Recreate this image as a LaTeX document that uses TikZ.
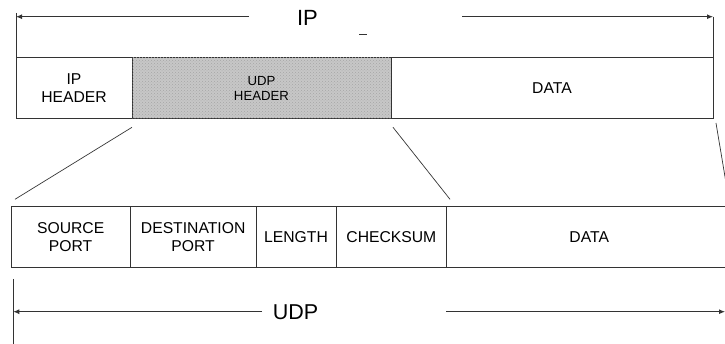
\documentclass[tikz,border=0pt]{standalone}
\usepackage{fontspec}
\setmainfont{Liberation Sans}
\usetikzlibrary{arrows.meta,patterns}
\definecolor{linegray}{gray}{0.2}
\definecolor{hatchbase}{gray}{0.78}
\begin{document}
\begin{tikzpicture}[x=1pt,y=-1pt,
  field/.style={draw=linegray,line width=1pt,inner sep=0pt,outer sep=0pt,
    anchor=north west,align=center,font=\fontsize{15.7}{18}\selectfont},
  smallfield/.style={field,font=\fontsize{13.2}{15}\selectfont},
  hatched/.style={fill=hatchbase,postaction={pattern=crosshatch dots,pattern color=gray!70}},
  title/.style={inner sep=0pt,font=\fontsize{22}{24}\selectfont},
  span/.style={draw=linegray,line width=0.9pt},
  spanarrow/.style={span,-{Latex[length=6pt,width=5pt]}},
  fan/.style={draw=black!80,line width=0.7pt}]
\useasboundingbox (0,0) rectangle (725,344);

% IP datagram
\node[field,minimum width=116pt,minimum height=60.7pt] (iphdr) at (16,58) {IP\\HEADER};
\node[smallfield,hatched,minimum width=259pt,minimum height=60.7pt] (udphdr) at (132,58) {UDP\\HEADER};
\node[field,minimum width=322pt,minimum height=60.7pt] (ipdata) at (391,58) {DATA};

% UDP datagram
\node[field,minimum width=119.3pt,minimum height=61.3pt] (srcport) at (11,206.7) {SOURCE\\PORT};
\node[field,minimum width=125.7pt,minimum height=61.3pt] (dstport) at (130.3,206.7) {DESTINATION\\PORT};
\node[field,minimum width=80pt,minimum height=61.3pt] (length) at (256,206.7) {LENGTH};
\node[field,minimum width=110.7pt,minimum height=61.3pt] (checksum) at (336,206.7) {CHECKSUM};
\node[field,minimum width=285pt,minimum height=61.3pt] (udpdata) at (446.7,206.7) {DATA};

% IP span
\node[title] (iplabel) at (307.5,17.7) {IP};
\coordinate (ipLs) at (249,16.7);
\coordinate (ipLe) at (16,16.7);
\coordinate (ipRs) at (462,16.7);
\coordinate (ipRe) at (713,16.7);
\coordinate (ipLtop) at (16,13);
\coordinate (ipRtop) at (713,16.7);
\draw[spanarrow] (ipLs) -- (ipLe);
\draw[spanarrow] (ipRs) -- (ipRe);
\draw[span] (ipLtop) -- (iphdr.north west);
\draw[span] (ipRtop) -- (ipdata.north east);
\coordinate (markA) at (359,34);
\coordinate (markB) at (367,34);
\draw[span] (markA) -- (markB);

% header expansion lines
\coordinate (fanLt) at (132,127.3);
\coordinate (fanLb) at (15,199.3);
\coordinate (fanMt) at (393,127.3);
\coordinate (fanMb) at (450,199.3);
\coordinate (fanRt) at (716,123);
\coordinate (fanRb) at (728.7,199);
\draw[fan] (fanLt) -- (fanLb);
\draw[fan] (fanMt) -- (fanMb);
\draw[fan] (fanRt) -- (fanRb);

% UDP span
\node[title,font=\fontsize{21.5}{24}\selectfont] (udplabel) at (295.5,312.5) {UDP};
\coordinate (udpLs) at (262,311.7);
\coordinate (udpLe) at (13.3,311.7);
\coordinate (udpRs) at (446,311.7);
\coordinate (udpRe) at (725,311.7);
\coordinate (udpLtop) at (13.3,279);
\coordinate (udpLbot) at (13.3,344);
\draw[spanarrow] (udpLs) -- (udpLe);
\draw[spanarrow] (udpRs) -- (udpRe);
\draw[span] (udpLtop) -- (udpLbot);
\end{tikzpicture}
\end{document}
